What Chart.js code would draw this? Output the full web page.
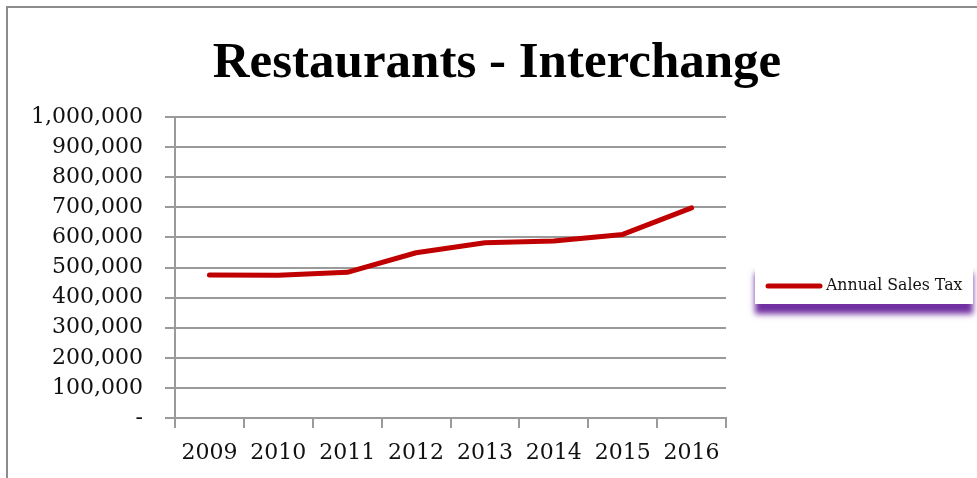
<!DOCTYPE html>
<html>
<head>
<meta charset="utf-8">
<script src="https://cdn.jsdelivr.net/npm/chart.js@4/dist/chart.umd.min.js"></script>
<style>
  html, body { margin: 0; padding: 0; background: #fff; }
  #wrap { width: 977px; height: 478px; position: relative; }
</style>
</head>
<body>
<div id="wrap"><canvas id="salesChart" width="977" height="478"></canvas></div>
<script>
// data
const years = ['2009', '2010', '2011', '2012', '2013', '2014', '2015', '2016'];
const annualSalesTax = [475000, 474000, 484000, 549000, 582000, 588000, 610000, 698000];
const yTicks = [0, 100000, 200000, 300000, 400000, 500000, 600000, 700000, 800000, 900000, 1000000];
const chartTitle = 'Restaurants - Interchange';

const gridGray = '#9a9a9a';
const lineRed = '#c00000';

// outer frame and title of the chart object
const framePlugin = {
  id: 'frame',
  beforeDraw(chart) {
    const ctx = chart.ctx;
    ctx.save();
    ctx.fillStyle = '#fff';
    ctx.fillRect(0, 0, chart.width, chart.height);
    ctx.strokeStyle = '#8c8c8c';
    ctx.lineWidth = 2;
    ctx.beginPath();
    ctx.moveTo(7, chart.height + 5);
    ctx.lineTo(7, 7);
    ctx.lineTo(chart.width + 5, 7);
    ctx.stroke();

    ctx.fillStyle = '#000';
    ctx.font = 'bold 51px "Liberation Serif"';
    ctx.textAlign = 'center';
    ctx.textBaseline = 'alphabetic';
    ctx.fillText(chartTitle, 497, 77);
    ctx.restore();
  }
};

// legend box on the right with purple drop shadow
const legendBoxPlugin = {
  id: 'legendBox',
  afterDraw(chart) {
    const ctx = chart.ctx;
    const ds = chart.data.datasets[0];
    const x = 755, y = 263, w = 218, h = 41;
    ctx.save();
    ctx.shadowColor = 'rgba(112, 48, 160, 1)';
    ctx.shadowBlur = 6;
    ctx.shadowOffsetY = 10;
    ctx.fillStyle = '#fff';
    ctx.fillRect(x, y, w, h);
    ctx.restore();

    ctx.save();
    const cy = 286;
    ctx.strokeStyle = ds.borderColor;
    ctx.lineWidth = 5;
    ctx.lineCap = 'round';
    ctx.beginPath();
    ctx.moveTo(768, cy);
    ctx.lineTo(820, cy);
    ctx.stroke();
    ctx.fillStyle = '#111';
    ctx.font = '15.75px "DejaVu Serif"';
    ctx.textBaseline = 'middle';
    ctx.fillText(ds.label, 826, cy);
    ctx.restore();
  }
};

new Chart(document.getElementById('salesChart'), {
  type: 'line',
  data: {
    labels: years,
    datasets: [{
      label: 'Annual Sales Tax',
      data: annualSalesTax,
      borderColor: lineRed,
      backgroundColor: lineRed,
      borderWidth: 5,
      borderCapStyle: 'round',
      borderJoinStyle: 'round',
      pointRadius: 0,
      tension: 0
    }]
  },
  options: {
    responsive: false,
    animation: false,
    layout: { padding: { left: 0, right: 251, top: 117, bottom: 0 } },
    plugins: {
      legend: { display: false },
      tooltip: { enabled: false },
      title: { display: false }
    },
    scales: {
      x: {
        offset: true,
        afterFit(scale) { scale.height = 60; },
        grid: {
          offset: true,
          drawOnChartArea: false,
          drawTicks: true,
          tickLength: 10,
          color: gridGray,
          lineWidth: 2
        },
        border: { display: true, color: gridGray, width: 2 },
        ticks: {
          color: '#111',
          padding: 12,
          maxRotation: 0,
          font: { family: '"DejaVu Serif"', size: 22 }
        }
      },
      y: {
        min: 0,
        max: 1000000,
        afterFit(scale) { scale.width = 175; },
        afterBuildTicks(scale) { scale.ticks = yTicks.map(v => ({ value: v })); },
        grid: {
          drawTicks: true,
          tickLength: 10,
          color: gridGray,
          lineWidth: 2
        },
        border: { display: true, color: gridGray, width: 2 },
        ticks: {
          color: '#111',
          padding: 22,
          font: { family: '"DejaVu Serif"', size: 22 },
          callback: v => v === 0 ? '-' : v.toLocaleString('en-US')
        }
      }
    }
  },
  plugins: [framePlugin, legendBoxPlugin]
});
</script>
</body>
</html>
